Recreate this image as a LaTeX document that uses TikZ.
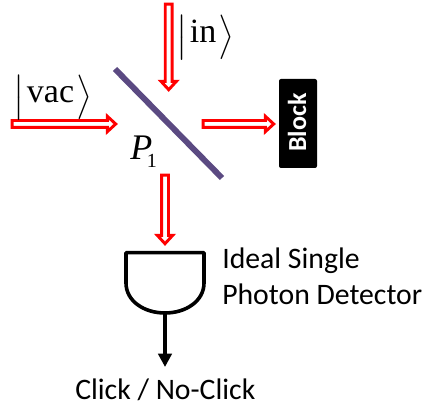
\documentclass[tikz,border=0pt]{standalone}
\usepackage{fontspec}
\usepackage{amsmath}
\usepackage{graphicx}
\setmainfont{Carlito}
\newfontfamily\serifface{Liberation Serif}
\usetikzlibrary{calc,arrows.meta}
\tikzset{
  beam/.style={draw=red,fill=white,line width=2.2pt,miter limit=10,
    to path={
      -- ($(\tikztostart)!2.6pt!90:(\tikztotarget)$)
      -- ($(\tikztotarget)!6.3pt!(\tikztostart)!2.6pt!90:(\tikztotarget)$)
      -- ($(\tikztotarget)!6.3pt!(\tikztostart)!5.8pt!90:(\tikztotarget)$)
      -- (\tikztotarget)
      -- ($(\tikztotarget)!6.3pt!(\tikztostart)!5.8pt!-90:(\tikztotarget)$)
      -- ($(\tikztotarget)!6.3pt!(\tikztostart)!2.6pt!-90:(\tikztotarget)$)
      -- ($(\tikztostart)!2.6pt!-90:(\tikztotarget)$)
      -- cycle}},
  label text/.style={anchor=base west,inner sep=0pt,font=\fontsize{22.3}{26}\selectfont},
  ket/.style={anchor=base west,inner sep=0pt,font=\fontsize{25.5}{30}\selectfont\serifface},
  wire/.style={black,line width=2.7pt},
}
\newcommand{\tallket}[1]{\raisebox{-3pt}{\scalebox{1}[1.12]{$#1$}}}
\newcommand{\ketof}[1]{\tallket{\big|}\kern2pt#1\kern1.5pt\tallket{\big\rangle}}
\begin{document}
\begin{tikzpicture}[x=0.75pt,y=-0.75pt]
\useasboundingbox (0,0) rectangle (426,409);
% mirror
\coordinate (m1) at (115,69);
\coordinate (m2) at (222,178);
\draw[color={rgb,255:red,91;green,74;blue,130},line width=4.4pt] (m1) -- (m2);
% beams
\coordinate (ins) at (168.7,4.2);   \coordinate (ine) at (168.7,89.7);
\coordinate (vacs) at (12.2,124);   \coordinate (vace) at (115.7,124);
\coordinate (outs) at (203.2,124);  \coordinate (oute) at (273.7,124);
\coordinate (dets) at (165,175.2);  \coordinate (dete) at (165,243.7);
\draw[beam] (ins) to (ine);
\draw[beam] (vacs) to (vace);
\draw[beam] (outs) to (oute);
\draw[beam] (dets) to (dete);
% block
\node[fill=black,rounded corners=1.5pt,minimum width=28.5pt,minimum height=66.75pt,inner sep=0pt] (block) at (298,123.5) {};
\node[rotate=90,text=white,inner sep=0pt,font=\fontsize{19.5}{24}\selectfont\bfseries] (blocktext) at (297,122.5) {Block};
% detector
\coordinate (dtl) at (126,252.7);
\coordinate (dtr) at (204,252.7);
\coordinate (dbot) at (165,313);
\coordinate (click) at (165,367);
\draw[wire,line join=round] (dtl) -- (dtr) -- (204,283)
   .. controls (204,301) and (186,313) .. (dbot)
   .. controls (144,313) and (126,301) .. (126,283) -- cycle;
\draw[wire,-{Triangle[length=10pt,width=10pt]}] (dbot) -- (click);
% labels
\node[ket] (in) at (176,43) {\ketof{in}};
\node[ket] (vac) at (13,103) {\ketof{vac}};
\node[inner sep=0pt,anchor=base west,font=\fontsize{27}{30}\selectfont\serifface\itshape] (p) at (130,160)
  {P\kern-4pt\raisebox{-6pt}{\fontsize{15}{16}\selectfont\upshape 1}};
\node[label text] (ideal) at (222,269) {Ideal Single};
\node[label text] (photon) at (222,305) {Photon Detector};
\node[label text] (clicktext) at (75,400) {Click / No-Click};
\end{tikzpicture}
\end{document}
